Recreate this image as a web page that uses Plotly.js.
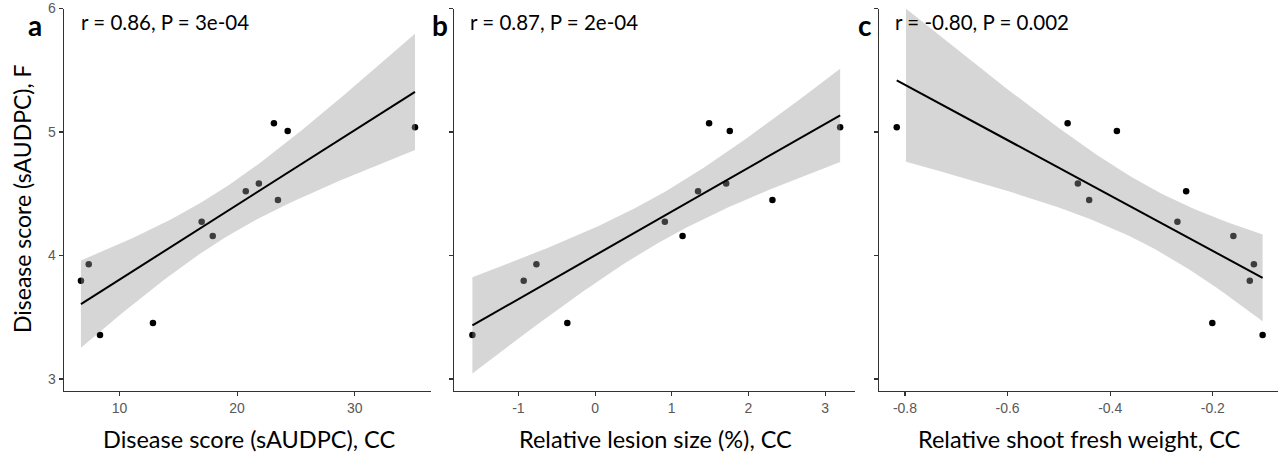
<!DOCTYPE html>
<html>
<head>
<meta charset="utf-8">
<script src="https://cdn.plot.ly/plotly-3.0.1.min.js"></script>
<style>
  html, body { margin: 0; padding: 0; background: #fff; }
  #chart { width: 1281px; height: 459px; }
</style>
</head>
<body>
<div id="chart"></div>
<script>
// ---- Data ----
// Disease score (sAUDPC), F  (shared y values, same order in every panel)
const diseaseF = [3.795, 3.929, 3.357, 3.454, 4.273, 4.157, 4.521, 4.584, 5.071, 4.449, 5.008, 5.038];
// Panel a: Disease score (sAUDPC), CC
const diseaseCC = [6.73, 7.39, 8.35, 12.85, 16.99, 17.93, 20.74, 21.85, 23.13, 23.47, 24.30, 35.12];
// Panel b: Relative lesion size (%), CC
const lesionCC = [-0.931, -0.765, -1.600, -0.362, 0.910, 1.141, 1.343, 1.710, 1.487, 2.313, 1.757, 3.196];
// Panel c: Relative shoot fresh weight, CC
const shootCC = [-0.128, -0.120, -0.103, -0.201, -0.269, -0.160, -0.252, -0.463, -0.483, -0.441, -0.387, -0.816];

const panelLetters = ["a", "b", "c"];
const statLabels = ["r = 0.86, P = 3e-04", "r = 0.87, P = 2e-04", "r = -0.80, P = 0.002"];
const xTitles = ["Disease score (sAUDPC), CC", "Relative lesion size (%), CC", "Relative shoot fresh weight, CC"];
const yTitle = "Disease score (sAUDPC), F";

const xTickValsA = [10, 20, 30];
const xTickTextA = ["10", "20", "30"];
const xTickValsB = [-1, 0, 1, 2, 3];
const xTickTextB = ["-1", "0", "1", "2", "3"];
const xTickValsC = [-0.8, -0.6, -0.4, -0.2];
const xTickTextC = ["-0.8", "-0.6", "-0.4", "-0.2"];
const yTickVals = [3, 4, 5, 6];
const yTickText = ["3", "4", "5", "6"];

// ---- Linear model with 95% confidence band (as geom_smooth(method = "lm")) ----
const T975_DF10 = 2.228139;
function lmBand(xs, ys, yMax) {
  const n = xs.length;
  const mx = xs.reduce((a, b) => a + b, 0) / n;
  const my = ys.reduce((a, b) => a + b, 0) / n;
  let sxx = 0, sxy = 0;
  for (let i = 0; i < n; i++) { sxx += (xs[i] - mx) ** 2; sxy += (xs[i] - mx) * (ys[i] - my); }
  const b = sxy / sxx, a = my - b * mx;
  let sse = 0;
  for (let i = 0; i < n; i++) sse += (ys[i] - a - b * xs[i]) ** 2;
  const s = Math.sqrt(sse / (n - 2));
  const lo = Math.min(...xs), hi = Math.max(...xs);
  const fx = [], fy = [], bx = [], up = [], dn = [];
  for (let k = 0; k < 80; k++) {
    const x = lo + (hi - lo) * k / 79;
    const f = a + b * x;
    const se = s * Math.sqrt(1 / n + (x - mx) ** 2 / sxx);
    fx.push(x); fy.push(f);
    const u = f + T975_DF10 * se, d = f - T975_DF10 * se;
    if (u <= yMax) { bx.push(x); up.push(u); dn.push(d); }
  }
  return { fx, fy, bx, up, dn };
}

const Y_RANGE = [2.907, 6.0];
const panels = [diseaseCC, lesionCC, shootCC];
const traces = [];
panels.forEach((xs, i) => {
  const xa = i === 0 ? "x" : "x" + (i + 1);
  const ya = i === 0 ? "y" : "y" + (i + 1);
  const m = lmBand(xs, diseaseF, Y_RANGE[1]);
  traces.push({
    type: "scatter", mode: "markers", x: xs, y: diseaseF, xaxis: xa, yaxis: ya,
    marker: { color: "#000000", size: 6.5 }, hoverinfo: "x+y"
  });
  traces.push({
    type: "scatter", mode: "lines", x: m.bx.concat(m.bx.slice().reverse()),
    y: m.up.concat(m.dn.slice().reverse()), xaxis: xa, yaxis: ya,
    fill: "toself", fillcolor: "rgba(153,153,153,0.4)", line: { width: 0 }, hoverinfo: "skip"
  });
  traces.push({
    type: "scatter", mode: "lines", x: m.fx, y: m.fy, xaxis: xa, yaxis: ya,
    line: { color: "#000000", width: 2 }, hoverinfo: "skip"
  });
});

const W = 1281, H = 459;
const panelTop = 8.5, panelBottom = 390.5;
const yDomain = [(H - panelBottom) / H, (H - panelTop) / H];
const xDomains = [[64 / W, 431 / W], [454.3 / W, 855 / W], [879.3 / W, 1278 / W]];
const xRanges = [[5.29, 36.48], [-1.836, 3.39], [-0.850, -0.073]];
const xTV = [xTickValsA, xTickValsB, xTickValsC];
const xTT = [xTickTextA, xTickTextB, xTickTextC];

const tickFont = { family: "Liberation Sans, Arial, sans-serif", size: 14, color: "#595959" };
const layout = {
  width: W, height: H,
  margin: { l: 0, r: 0, t: 0, b: 0, pad: 0 },
  paper_bgcolor: "#ffffff", plot_bgcolor: "#ffffff",
  showlegend: false,
  annotations: []
};
for (let i = 0; i < 3; i++) {
  const sfx = i === 0 ? "" : String(i + 1);
  layout["xaxis" + sfx] = {
    domain: xDomains[i], range: xRanges[i], anchor: "y" + sfx,
    showgrid: false, zeroline: false, showline: true, linecolor: "#333333", linewidth: 1.3,
    ticks: "outside", ticklen: 4, tickwidth: 1.1, tickcolor: "#333333",
    tickmode: "array", tickvals: xTV[i], ticktext: xTT[i], tickfont: tickFont
  };
  layout["yaxis" + sfx] = {
    domain: yDomain, range: Y_RANGE, anchor: "x" + sfx,
    showgrid: false, zeroline: false, showline: true, linecolor: "#333333", linewidth: 1.3,
    ticks: "outside", ticklen: 4, tickwidth: 1.1, tickcolor: "#333333",
    tickmode: "array", tickvals: yTickVals, ticktext: yTickText,
    showticklabels: i === 0, tickfont: tickFont
  };
}

const titleFont = { family: "Lato, Carlito, Calibri, sans-serif", size: 23.5, color: "#000000" };
const xTitleCenters = [249, 655, 1079];
for (let i = 0; i < 3; i++) {
  layout.annotations.push({
    xref: "paper", yref: "paper", x: xTitleCenters[i] / W, y: 1 - 439 / H,
    xanchor: "center", yanchor: "middle", showarrow: false,
    text: xTitles[i], font: titleFont
  });
}
layout.annotations.push({
  xref: "paper", yref: "paper", x: 22 / W, y: 1 - 199 / H,
  xanchor: "center", yanchor: "middle", showarrow: false, textangle: -90,
  text: yTitle, font: { family: "Lato, Carlito, Calibri, sans-serif", size: 23, color: "#000000" }
});
const statX = [79, 468, 893];
const letterX = [35, 440, 865];
for (let i = 0; i < 3; i++) {
  layout.annotations.push({
    xref: "paper", yref: "paper", x: statX[i] / W, y: 1 - 22 / H,
    xanchor: "left", yanchor: "middle", showarrow: false,
    text: statLabels[i], font: { family: "Lato, Carlito, sans-serif", size: 20.5, color: "#000000" }
  });
  layout.annotations.push({
    xref: "paper", yref: "paper", x: letterX[i] / W, y: 1 - 25 / H,
    xanchor: "center", yanchor: "middle", showarrow: false,
    text: "<b>" + panelLetters[i] + "</b>", font: { family: "Lato, Carlito, sans-serif", size: 28, color: "#000000" }
  });
}

Plotly.newPlot("chart", traces, layout, { staticPlot: true, displayModeBar: false });
</script>
</body>
</html>
